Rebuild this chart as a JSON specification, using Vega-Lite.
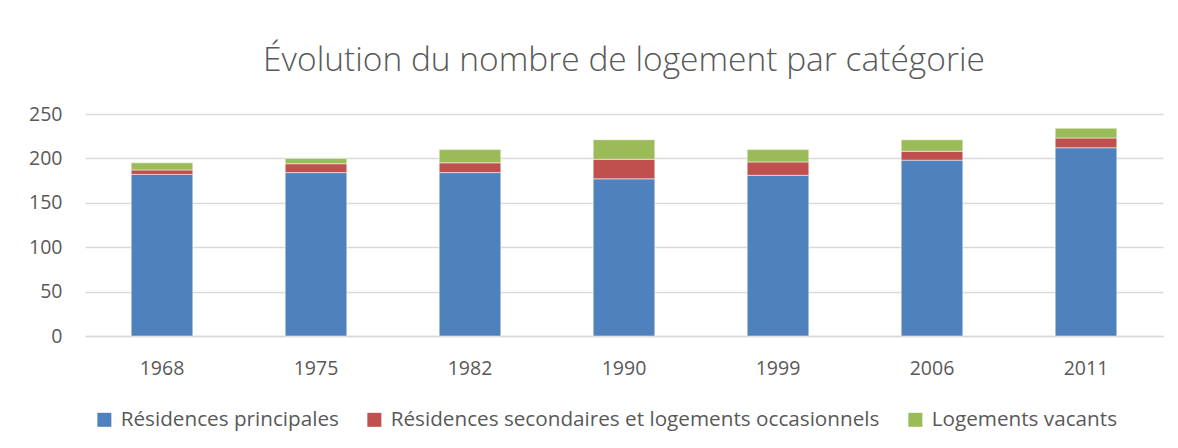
{
  "$schema": "https://vega.github.io/schema/vega-lite/v6.json",
  "width": 1078,
  "height": 222,
  "autosize": "none",
  "padding": {"left": 85, "top": 114, "right": 15, "bottom": 112},
  "background": "white",
  "title": {
    "text": "Évolution du nombre de logement par catégorie",
    "anchor": "middle",
    "frame": "group",
    "fontSize": 33.5,
    "font": "Open Sans",
    "fontWeight": 300,
    "color": "#595959",
    "offset": 26
  },
  "data": {
    "values": [
      {"annee": "1968", "categorie": "Résidences principales", "ordre": 1, "logements": 182},
      {"annee": "1968", "categorie": "Résidences secondaires et logements occasionnels", "ordre": 2, "logements": 5},
      {"annee": "1968", "categorie": "Logements vacants", "ordre": 3, "logements": 8},
      {"annee": "1975", "categorie": "Résidences principales", "ordre": 1, "logements": 184},
      {"annee": "1975", "categorie": "Résidences secondaires et logements occasionnels", "ordre": 2, "logements": 10},
      {"annee": "1975", "categorie": "Logements vacants", "ordre": 3, "logements": 6},
      {"annee": "1982", "categorie": "Résidences principales", "ordre": 1, "logements": 184},
      {"annee": "1982", "categorie": "Résidences secondaires et logements occasionnels", "ordre": 2, "logements": 11},
      {"annee": "1982", "categorie": "Logements vacants", "ordre": 3, "logements": 15},
      {"annee": "1990", "categorie": "Résidences principales", "ordre": 1, "logements": 177},
      {"annee": "1990", "categorie": "Résidences secondaires et logements occasionnels", "ordre": 2, "logements": 22},
      {"annee": "1990", "categorie": "Logements vacants", "ordre": 3, "logements": 22},
      {"annee": "1999", "categorie": "Résidences principales", "ordre": 1, "logements": 181},
      {"annee": "1999", "categorie": "Résidences secondaires et logements occasionnels", "ordre": 2, "logements": 15},
      {"annee": "1999", "categorie": "Logements vacants", "ordre": 3, "logements": 14},
      {"annee": "2006", "categorie": "Résidences principales", "ordre": 1, "logements": 198},
      {"annee": "2006", "categorie": "Résidences secondaires et logements occasionnels", "ordre": 2, "logements": 10},
      {"annee": "2006", "categorie": "Logements vacants", "ordre": 3, "logements": 13},
      {"annee": "2011", "categorie": "Résidences principales", "ordre": 1, "logements": 212},
      {"annee": "2011", "categorie": "Résidences secondaires et logements occasionnels", "ordre": 2, "logements": 11},
      {"annee": "2011", "categorie": "Logements vacants", "ordre": 3, "logements": 11}
    ]
  },
  "mark": {"type": "bar", "stroke": "#ffffff", "strokeOpacity": 0.5, "strokeWidth": 1},
  "encoding": {
    "x": {
      "field": "annee",
      "type": "ordinal",
      "title": null,
      "scale": {"paddingInner": 0.6, "paddingOuter": 0.3},
      "axis": {
        "labelAngle": 0,
        "labelFont": "Open Sans",
        "labelFontSize": 19.5,
        "labelColor": "#595959",
        "labelPadding": 23,
        "ticks": false,
        "domainColor": "#d9d9d9",
        "domainWidth": 1.5,
        "grid": false
      }
    },
    "y": {
      "field": "logements",
      "type": "quantitative",
      "title": null,
      "stack": "zero",
      "scale": {"domain": [0, 250], "nice": false},
      "axis": {
        "values": [0, 50, 100, 150, 200, 250],
        "labelFont": "Open Sans",
        "labelFontSize": 19.5,
        "labelColor": "#595959",
        "labelPadding": 23,
        "ticks": false,
        "domain": false,
        "gridColor": "#d9d9d9",
        "gridWidth": 1.5
      }
    },
    "color": {
      "field": "categorie",
      "type": "nominal",
      "scale": {
        "domain": ["Résidences principales", "Résidences secondaires et logements occasionnels", "Logements vacants"],
        "range": ["#4f81bd", "#c0504d", "#9bbb59"]
      },
      "legend": {
        "title": null,
        "orient": "none",
        "direction": "horizontal",
        "legendX": 9,
        "legendY": 295,
        "padding": 0,
        "symbolType": "square",
        "symbolSize": 196,
        "symbolStrokeWidth": 0,
        "labelFont": "Open Sans",
        "labelFontSize": 20.7,
        "labelColor": "#595959",
        "labelOffset": 6,
        "labelLimit": 0,
        "columnPadding": 25
      }
    },
    "order": {"field": "ordre", "type": "quantitative"}
  },
  "config": {"view": {"stroke": null}}
}
